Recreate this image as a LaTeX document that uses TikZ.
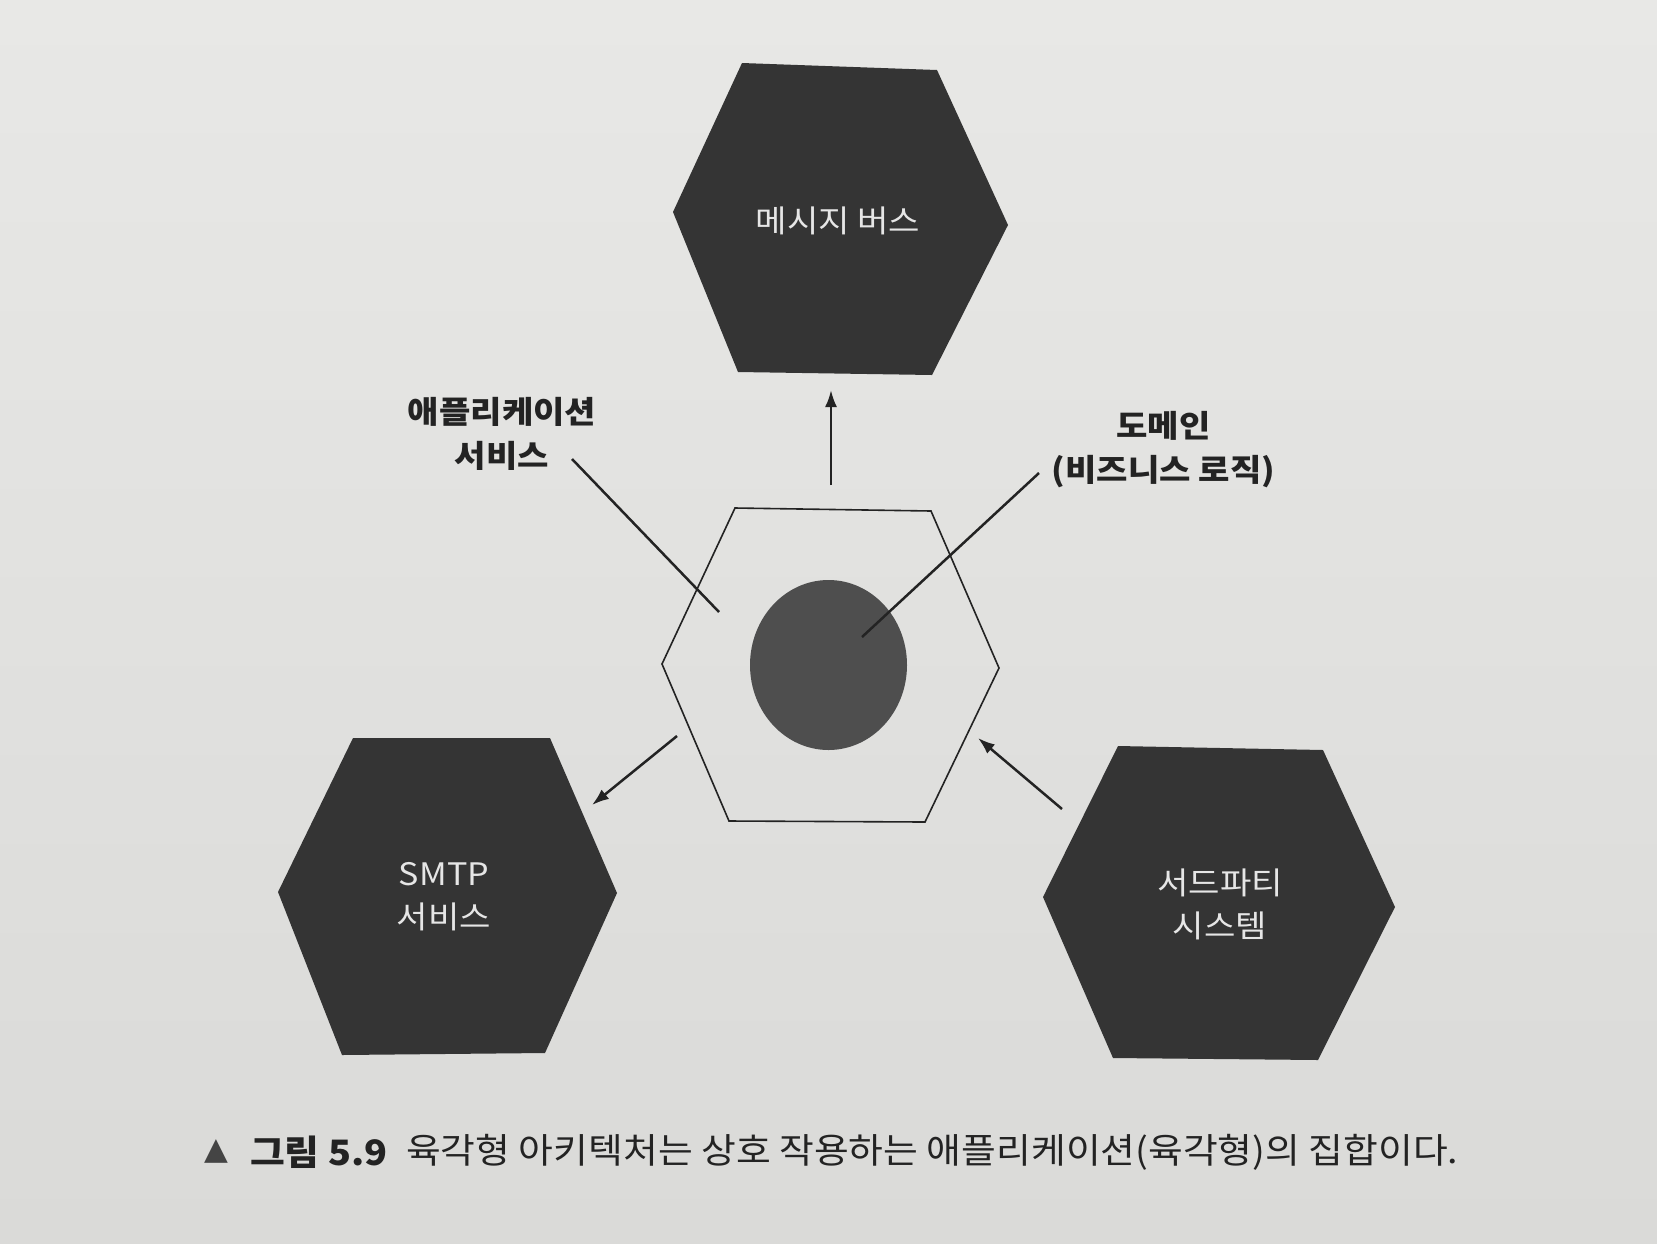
\documentclass[tikz,border=0pt]{standalone}
\usepackage{fontspec}
\setmainfont{Noto Sans CJK KR}
\newfontfamily\krw{Noto Sans CJK KR}[FakeStretch=1.1]
\newfontfamily\krc{Noto Sans CJK KR}[FakeStretch=1.08]
\newfontfamily\dejavu{DejaVu Sans}
\usetikzlibrary{arrows.meta,shapes.geometric}
\definecolor{papertop}{HTML}{E8E8E6}
\definecolor{paperbot}{HTML}{DADAD8}
\definecolor{hexfill}{HTML}{343434}
\definecolor{corefill}{HTML}{4E4E4E}
\definecolor{ink}{HTML}{232323}
\definecolor{lighttext}{HTML}{E6E6E6}
\tikzset{
  darkhex/.style={fill=hexfill, draw=none},
  hextext/.style={text=lighttext, align=center, inner sep=0pt, font=\krw\fontsize{31}{43}\selectfont},
  labeltext/.style={text=ink, align=center, inner sep=0pt, font=\krw\bfseries\fontsize{31}{44}\selectfont},
  conn/.style={draw=ink, line width=2.5pt},
  arr/.style={conn, -{Latex[length=17pt,width=12pt]}},
}
\begin{document}
\begin{tikzpicture}[x=1pt,y=-1pt]
\useasboundingbox (0,0) rectangle (1657,1243);
\shade[top color=papertop, bottom color=paperbot] (0,0) rectangle (1657,1243);

% top hexagon: message bus
\fill[darkhex] (742,63) -- (937,70) -- (1008,225) -- (932,375) -- (738,372) -- (673,212) -- cycle;
\node[hextext] (bus) at (838,221) {메시지 버스};

% bottom-left hexagon: SMTP
\fill[darkhex] (353,738) -- (550,738) -- (617,893) -- (545,1053) -- (342,1055) -- (278,892) -- cycle;
\node[hextext] (smtp) at (444,897) {SMTP\\서비스};

% bottom-right hexagon: third party
\fill[darkhex] (1118,746) -- (1323,750) -- (1395,907) -- (1318,1060) -- (1113,1058) -- (1043,897) -- cycle;
\node[hextext] (third) at (1220,904) {서드파티\\시스템};

% centre hexagon (application) and domain core
\draw[draw=ink, line width=1.6pt] (735,508) -- (931,511) -- (999,668) -- (925,822) -- (729,821) -- (662,664) -- cycle;
\node[ellipse, fill=corefill, minimum width=157pt, minimum height=170pt, inner sep=0pt] (core) at (828.5,665) {};

% labels
\node[labeltext] (applabel) at (502,433.5) {애플리케이션\\서비스};
\node[labeltext] (domlabel) at (1163.6,450) {도메인\\(비즈니스 로직)};

% named end points
\coordinate (upA) at (831,485);
\coordinate (upB) at (831,390);
\coordinate (leftA) at (677,736);
\coordinate (leftB) at (592,805);
\coordinate (rightA) at (1062,809);
\coordinate (rightB) at (978,738);
\coordinate (appA) at (572,459);
\coordinate (appB) at (719,612);
\coordinate (domA) at (1039,473);
\coordinate (domB) at (862,637);

\draw[arr] (upA) -- (upB);
\draw[arr] (leftA) -- (leftB);
\draw[arr] (rightA) -- (rightB);
\draw[conn] (appA) -- (appB);
\draw[conn] (domA) -- (domB);

% caption
\node[text=ink!85, inner sep=0pt, anchor=west, font=\dejavu\fontsize{31}{34}\selectfont] (tri) at (204,1151) {▲};
\node[text=ink, inner sep=0pt, anchor=west, font=\krc\bfseries\fontsize{35}{40}\selectfont] (fig) at (250,1152) {그림 5.9};
\node[text=ink, inner sep=0pt, anchor=west, font=\krc\fontsize{35}{40}\selectfont] (cap) at (406,1152) {육각형 아키텍처는 상호 작용하는 애플리케이션(육각형)의 집합이다.};
\end{tikzpicture}
\end{document}
